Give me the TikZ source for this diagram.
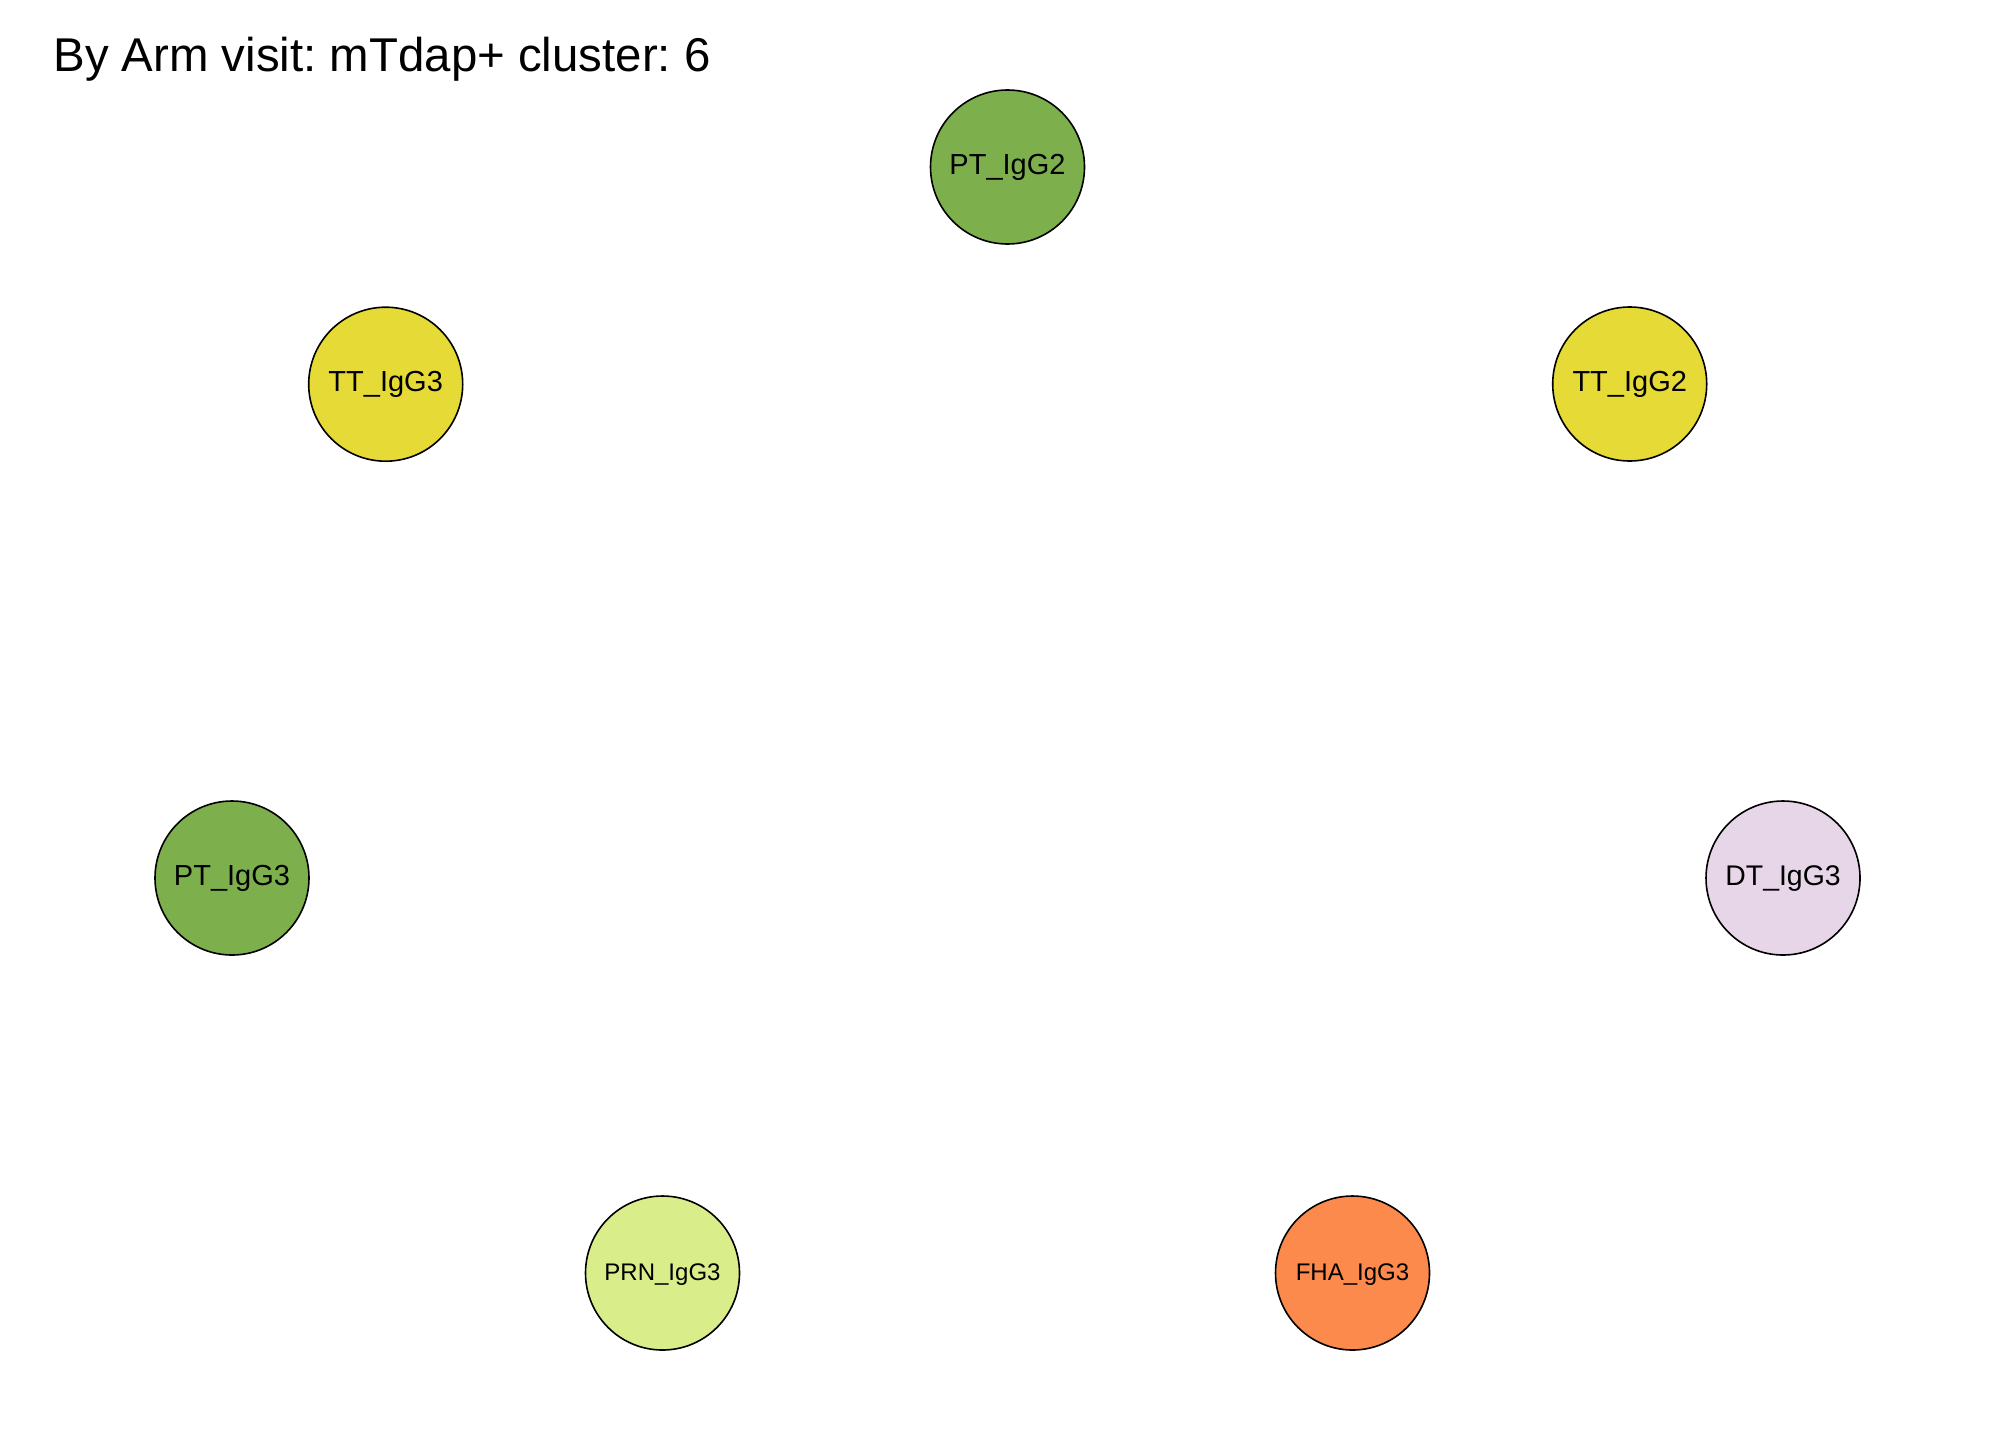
\documentclass[tikz,border=0pt]{standalone}
\usepackage{fontspec}
\setmainfont{Liberation Sans}
\frenchspacing
\definecolor{ptgreen}{RGB}{125,176,77}
\definecolor{ttyellow}{RGB}{230,218,54}
\definecolor{prnlime}{RGB}{217,237,138}
\definecolor{fhaorange}{RGB}{251,138,76}
\definecolor{dtlilac}{RGB}{231,213,232}
\tikzset{
  vert/.style={circle, draw=black, line width=0.8pt, minimum size=77pt, inner sep=0pt, text height=0.72em, text depth=0pt, font=\fontsize{14.5}{16}\selectfont},
  smalllab/.style={font=\fontsize{12}{14}\selectfont},
}
\begin{document}
\begin{tikzpicture}[x=0.5pt,y=-0.5pt]
\useasboundingbox[fill=white] (0,0) rectangle (2016,1440);
\node[anchor=base west, inner sep=0pt, font=\fontsize{23.7}{28}\selectfont] (title) at (53,71.7) {By Arm visit: mTdap+ cluster: 6};
\node[vert, fill=ptgreen] (ptigg2) at (1007.5,167) {PT\_IgG2};
\node[vert, fill=ttyellow] (ttigg3) at (385.7,384.2) {TT\_IgG3};
\node[vert, fill=ttyellow] (ttigg2) at (1629.7,384) {TT\_IgG2};
\node[vert, fill=ptgreen] (ptigg3) at (232,878) {PT\_IgG3};
\node[vert, fill=dtlilac, font=\fontsize{14.2}{16}\selectfont] (dtigg3) at (1783,878) {DT\_IgG3};
\node[vert, smalllab, fill=prnlime] (prnigg3) at (662.5,1273) {PRN\_IgG3};
\node[vert, smalllab, fill=fhaorange] (fhaigg3) at (1352.5,1273) {FHA\_IgG3};
\end{tikzpicture}
\end{document}
